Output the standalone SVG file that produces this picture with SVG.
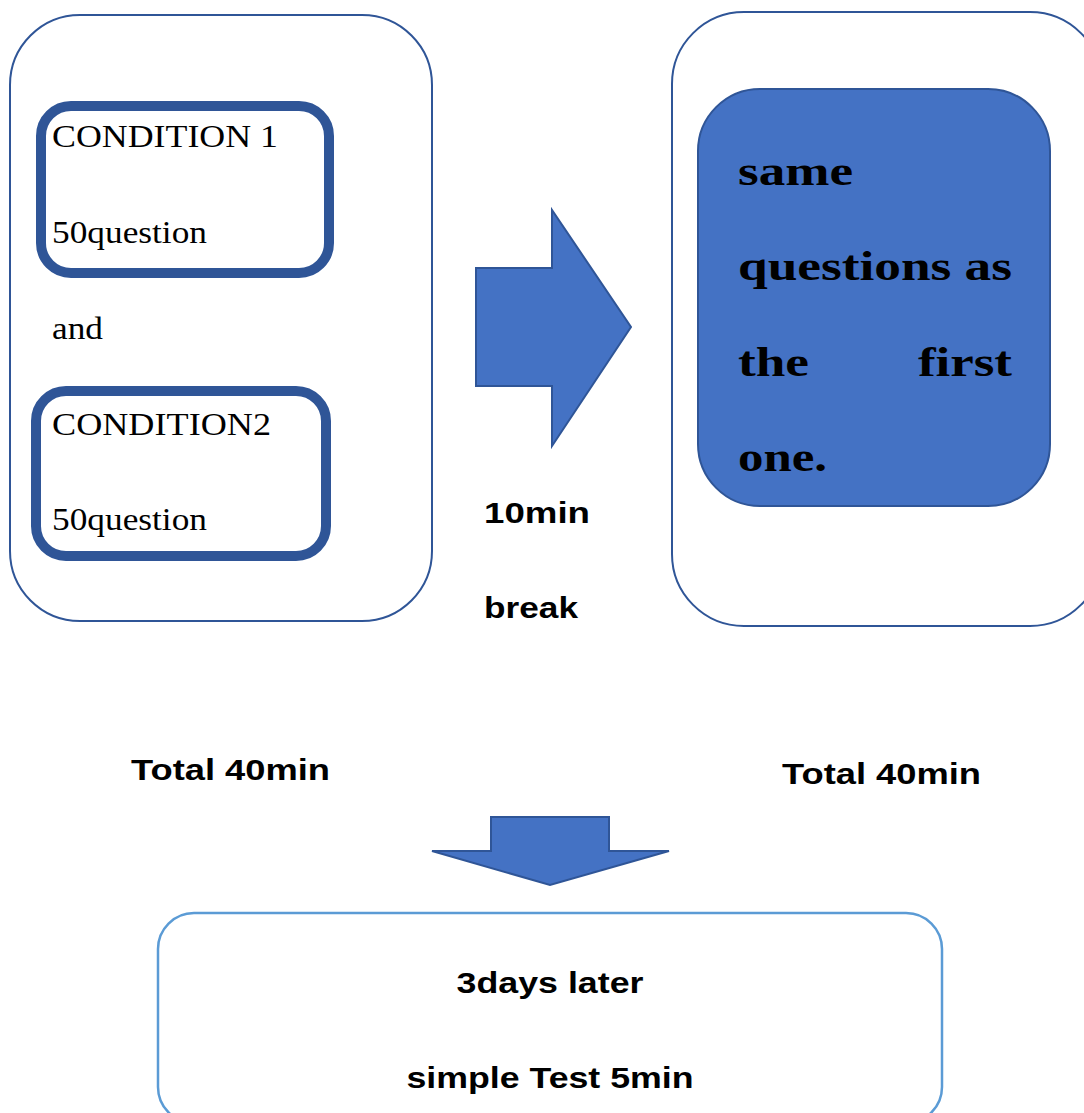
<svg xmlns="http://www.w3.org/2000/svg" width="1084" height="1113" viewBox="0 0 1084 1113">
  <style>
    .outer { fill: #ffffff; stroke: #2F5597; stroke-width: 2; }
    .cond { fill: #ffffff; stroke: #2F5597; stroke-width: 10; }
    .blue { fill: #4472C4; stroke: #2F5597; stroke-width: 2; }
    .note { fill: #ffffff; stroke: #5B9BD5; stroke-width: 2.5; }
    .serif { font-family: "Liberation Serif", "DejaVu Serif", serif; fill: #000000; }
    .big { font-family: "Liberation Serif", "DejaVu Serif", serif; font-weight: bold; font-size: 42px; fill: #000000; }
    .sans { font-family: "Liberation Sans", "Noto Sans", sans-serif; font-weight: bold; font-size: 30px; fill: #000000; }
  </style>
  <rect width="1084" height="1113" fill="#ffffff"/>

  <!-- first session -->
  <g id="session1">
    <rect class="outer" x="10" y="15" width="422" height="606" rx="70" ry="70"/>
  </g>
  <g id="condition1">
    <rect class="cond" x="41" y="106" width="288" height="167" rx="30" ry="30"/>
    <text class="serif" x="52" y="147" font-size="32" textLength="226" lengthAdjust="spacingAndGlyphs">CONDITION 1</text>
    <text class="serif" x="52" y="243" font-size="32" textLength="155" lengthAdjust="spacingAndGlyphs">50question</text>
  </g>
  <g id="and-label">
    <text class="serif" x="52" y="339" font-size="32" textLength="51" lengthAdjust="spacingAndGlyphs">and</text>
  </g>
  <g id="condition2">
    <rect class="cond" x="36" y="391" width="290" height="165" rx="30" ry="30"/>
    <text class="serif" x="52" y="435" font-size="32" textLength="219" lengthAdjust="spacingAndGlyphs">CONDITION2</text>
    <text class="serif" x="52" y="530" font-size="32" textLength="155" lengthAdjust="spacingAndGlyphs">50question</text>
  </g>

  <!-- second session -->
  <g id="session2">
    <rect class="outer" x="672" y="12" width="430" height="614" rx="72" ry="72"/>
  </g>
  <g id="repeat">
    <rect class="blue" x="698" y="89" width="352" height="417" rx="62" ry="62"/>
    <text class="big" x="738" y="185" textLength="115" lengthAdjust="spacingAndGlyphs">same</text>
    <text class="big" x="738" y="280" textLength="274" lengthAdjust="spacingAndGlyphs">questions as</text>
    <text class="big" x="738" y="376" textLength="71" lengthAdjust="spacingAndGlyphs">the</text>
    <text class="big" x="1012" y="376" text-anchor="end" textLength="94" lengthAdjust="spacingAndGlyphs">first</text>
    <text class="big" x="738" y="471" textLength="89" lengthAdjust="spacingAndGlyphs">one.</text>
  </g>

  <!-- break labels -->
  <g id="break-label">
    <text class="sans" x="484" y="523" textLength="106" lengthAdjust="spacingAndGlyphs">10min</text>
    <text class="sans" x="484" y="618" textLength="94" lengthAdjust="spacingAndGlyphs">break</text>
  </g>
  <g id="total1">
    <text class="sans" x="131" y="780" textLength="199" lengthAdjust="spacingAndGlyphs">Total 40min</text>
  </g>
  <g id="total2">
    <text class="sans" x="782" y="784" textLength="199" lengthAdjust="spacingAndGlyphs">Total 40min</text>
  </g>

  <!-- follow-up test -->
  <g id="followup">
    <rect class="note" x="158" y="913" width="784" height="210" rx="36" ry="36"/>
    <text class="sans" x="550" y="993" text-anchor="middle" textLength="187" lengthAdjust="spacingAndGlyphs">3days later</text>
    <text class="sans" x="550" y="1088" text-anchor="middle" textLength="287" lengthAdjust="spacingAndGlyphs">simple Test 5min</text>
  </g>

  <!-- block arrows -->
  <g id="connectors">
    <polygon class="blue" stroke-width="1.2" points="476,268 552,268 552,210 631,327 552,446 552,386 476,386"/>
    <polygon class="blue" stroke-width="1.2" points="491,817 609,817 609,851 669,851 550,885 432,851 491,851"/>
  </g>
</svg>
